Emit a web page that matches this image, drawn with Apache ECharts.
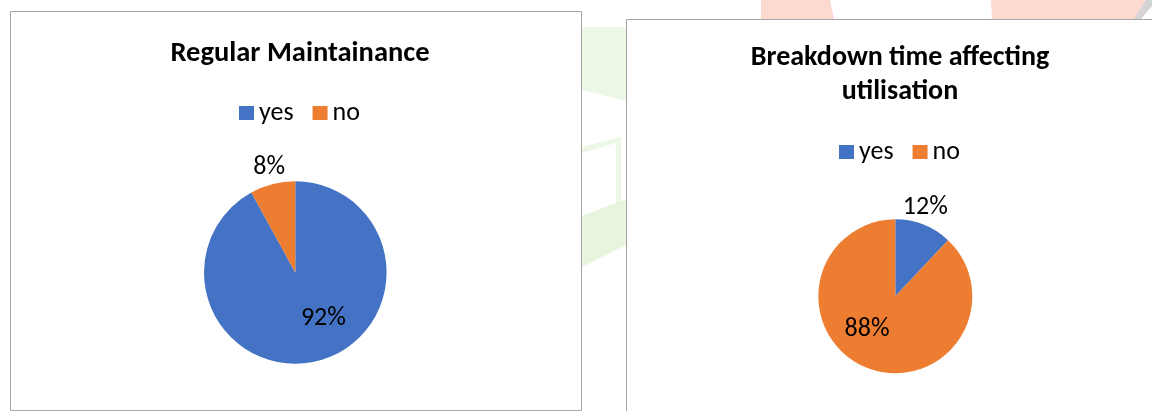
<!DOCTYPE html>
<html>
<head>
<meta charset="utf-8">
<title>Regular Maintainance / Breakdown time affecting utilisation</title>
<script src="https://cdn.jsdelivr.net/npm/echarts@6/dist/echarts.min.js"></script>
<style>
  html, body { margin: 0; padding: 0; background: #ffffff; }
  #chart { width: 1152px; height: 411px; }
</style>
</head>
<body>
<div id="chart"></div>
<script>
// Survey answers, in percent
const categories = ['yes', 'no'];
const maintenanceValues = [92, 8];
const breakdownValues = [12, 88];
const chartTitles = ['Regular Maintainance', 'Breakdown time affecting\nutilisation'];

const COLORS = { yes: '#4472C4', no: '#ED7D31' };
const FONT = 'Carlito, Lato, "Open Sans", sans-serif';

// Small hand tweaks for label placement: [seriesIndex][dataIndex] -> [dx, dy]
const labelNudge = [
  [[16, -1], [21, -3]],
  [[-31, -4], [-13, -5]]
];

function pieData(values, outsideIndex) {
  return categories.map((name, i) => ({
    name: name,
    value: values[i],
    itemStyle: { color: COLORS[name] },
    label: { position: i === outsideIndex ? 'outside' : 'inside' }
  }));
}

function pieSeries(values, center, radius, outsideIndex, idx) {
  return {
    type: 'pie',
    center: center,
    radius: radius,
    startAngle: 90,
    clockwise: true,
    avoidLabelOverlap: false,
    silent: true,
    itemStyle: { borderWidth: 0 },
    label: {
      show: true,
      formatter: '{c}%',
      color: '#000000',
      fontFamily: FONT,
      fontSize: 26
    },
    labelLine: { show: false, length: 14, length2: 0 },
    labelLayout: function (p) {
      const n = labelNudge[idx][p.dataIndex];
      return { dx: n[0], dy: n[1] };
    },
    data: pieData(values, outsideIndex)
  };
}

const chart = echarts.init(document.getElementById('chart'), null, { renderer: 'canvas' });

chart.setOption({
  backgroundColor: '#ffffff',
  animation: false,
  graphic: [
    // faint page watermark behind the two chart frames
    { type: 'polygon', z: -10, silent: true, shape: { points: [[582, 27], [626, 27], [626, 101], [582, 90]] }, style: { fill: '#edf7e5' } },
    { type: 'polygon', z: -10, silent: true, shape: { points: [[582, 147], [621, 137], [621, 205], [616, 205], [616, 143], [582, 153]] }, style: { fill: '#edf7e5' } },
    { type: 'polygon', z: -10, silent: true, shape: { points: [[582, 216], [616, 203], [626, 200], [626, 245], [582, 267]] }, style: { fill: '#e8f4de' } },
    { type: 'polygon', z: -10, silent: true, shape: { points: [[761, 0], [830, 0], [834, 19], [761, 19]] }, style: { fill: '#fdd9d0' } },
    { type: 'polygon', z: -10, silent: true, shape: { points: [[991, 0], [1150, 0], [1140, 19], [992, 19]] }, style: { fill: '#fdd9d0' } },
    { type: 'polygon', z: -10, silent: true, shape: { points: [[1146, 0], [1152, 0], [1152, 6], [1141, 19], [1134, 19]] }, style: { fill: '#d4d4d4' } },
    // chart frames
    { type: 'rect', z: -5, silent: true, shape: { x: 10.5, y: 11.5, width: 571, height: 399 }, style: { fill: '#ffffff', stroke: '#a6a6a6', lineWidth: 1 } },
    { type: 'rect', z: -5, silent: true, shape: { x: 626.5, y: 19.5, width: 560, height: 420 }, style: { fill: '#ffffff', stroke: '#a6a6a6', lineWidth: 1 } }
  ],
  title: [
    {
      text: chartTitles[0],
      left: 295, top: 34, textAlign: 'center',
      textStyle: { fontFamily: FONT, fontWeight: 'bold', fontSize: 28.5, color: '#000000' }
    },
    {
      text: chartTitles[1],
      left: 895, top: 36, textAlign: 'center',
      textStyle: { fontFamily: FONT, fontWeight: 'bold', fontSize: 28, lineHeight: 34, color: '#000000' }
    }
  ],
  legend: [
    {
      data: categories, left: 234, top: 95, icon: 'rect',
      itemWidth: 15, itemHeight: 14, itemGap: 19,
      textStyle: { fontFamily: FONT, fontSize: 26, color: '#000000' },
      selectedMode: false
    },
    {
      data: categories, left: 834, top: 134, icon: 'rect',
      itemWidth: 15, itemHeight: 14, itemGap: 19,
      textStyle: { fontFamily: FONT, fontSize: 26, color: '#000000' },
      selectedMode: false
    }
  ],
  series: [
    pieSeries(maintenanceValues, [295.3, 272.5], 91.3, 1, 0),
    pieSeries(breakdownValues, [895.3, 296.3], 77, 0, 1)
  ]
});
</script>
</body>
</html>
